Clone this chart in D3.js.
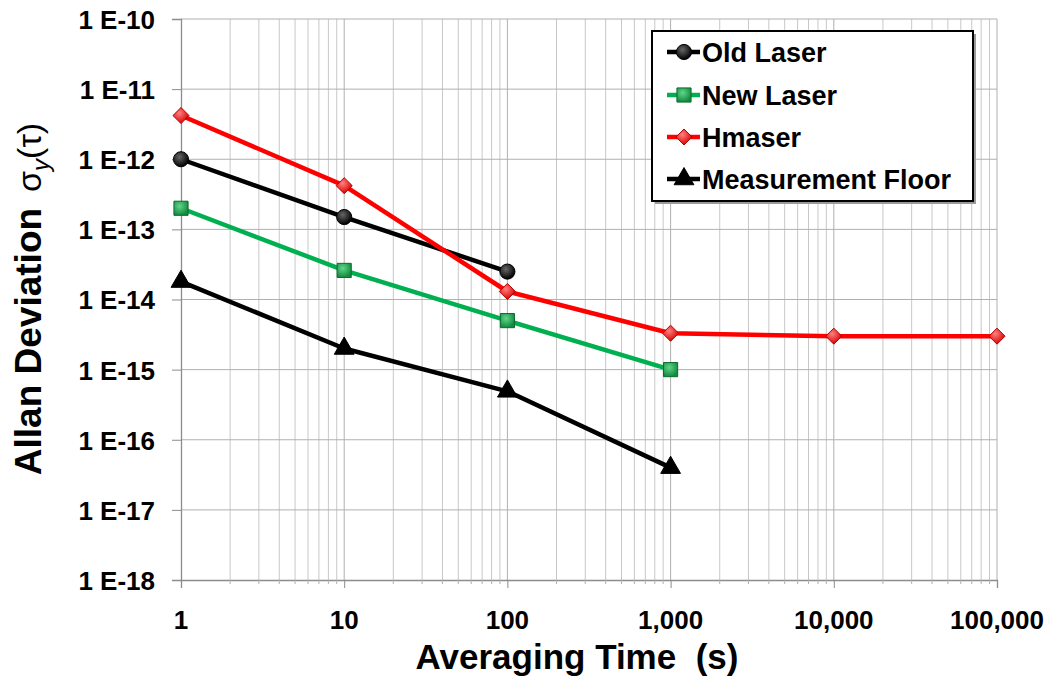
<!DOCTYPE html>
<html><head><meta charset="utf-8">
<script src="https://cdn.jsdelivr.net/npm/d3@7"></script>
<style>body{margin:0;background:#fff}svg{display:block}text{font-family:"Liberation Sans",Arial,sans-serif}</style>
</head><body>
<svg id="c" width="1053" height="686"></svg>
<script>
const xTicks = [1, 10, 100, 1000, 10000, 100000];
const yTicks = [1e-10, 1e-11, 1e-12, 1e-13, 1e-14, 1e-15, 1e-16, 1e-17, 1e-18];
const oldLaserX = [1, 10, 100];
const oldLaserY = [1e-12, 1.5e-13, 2.5e-14];
const newLaserX = [1, 10, 100, 1000];
const newLaserY = [2e-13, 2.6e-14, 5e-15, 1e-15];
const hmaserX = [1, 10, 100, 1000, 10000, 100000];
const hmaserY = [4.2e-12, 4.2e-13, 1.3e-14, 3.3e-15, 3.0e-15, 3.0e-15];
const floorX = [1, 10, 100, 1000];
const floorY = [1.8e-14, 2.0e-15, 4.9e-16, 4e-17];

const diamond = { draw(ctx, size) { const r = Math.sqrt(size) / 2 * 1.25;
  ctx.moveTo(0, -r); ctx.lineTo(r, 0); ctx.lineTo(0, r); ctx.lineTo(-r, 0); ctx.closePath(); } };

const series = [
  {name: "Old Laser", x: oldLaserX, y: oldLaserY, color: "#000000", sym: d3.symbolCircle, size: 180, fill: "url(#gBlack)", stroke: "#000"},
  {name: "New Laser", x: newLaserX, y: newLaserY, color: "#00b050", sym: d3.symbolSquare, size: 200, fill: "url(#gGreen)", stroke: "#0b6b2e"},
  {name: "Hmaser", x: hmaserX, y: hmaserY, color: "#ff0000", sym: diamond, size: 165, fill: "url(#gRed)", stroke: "#b00000"},
  {name: "Measurement Floor", x: floorX, y: floorY, color: "#000000", sym: d3.symbolTriangle, size: 170, fill: "#000", stroke: "#000"}
];

const svg = d3.select("#c");
const defs = svg.append("defs");
[["gBlack", "#666", "#000"], ["gGreen", "#5fd68a", "#138a3e"], ["gRed", "#ff8080", "#d80000"]].forEach(([id, c1, c2]) => {
  const g = defs.append("radialGradient").attr("id", id).attr("cx", "40%").attr("cy", "35%").attr("r", "65%");
  g.append("stop").attr("offset", "0%").attr("stop-color", c1);
  g.append("stop").attr("offset", "100%").attr("stop-color", c2);
});

const L = 181, R = 997, T = 19, B = 580;
const x = d3.scaleLog().domain([1, 1e5]).range([L, R]);
const y = d3.scaleLog().domain([1e-18, 1e-10]).range([B, T]);

// vertical gridlines (major + minor)
const minor = [];
for (let e = 0; e < 5; e++) for (let k = 2; k <= 9; k++) minor.push(k * Math.pow(10, e));
svg.append("g").selectAll("line").data(minor).join("line")
  .attr("x1", d => x(d)).attr("x2", d => x(d)).attr("y1", T).attr("y2", B)
  .attr("stroke", "#c8c8c8").attr("stroke-width", 1);
svg.append("g").selectAll("line").data(xTicks.slice(1)).join("line")
  .attr("x1", d => x(d)).attr("x2", d => x(d)).attr("y1", T).attr("y2", B)
  .attr("stroke", "#b0b0b0").attr("stroke-width", 1);
svg.append("g").selectAll("line").data(yTicks.slice(0, -1)).join("line")
  .attr("x1", L).attr("x2", R).attr("y1", d => y(d)).attr("y2", d => y(d))
  .attr("stroke", "#b0b0b0").attr("stroke-width", 1);

// axes
const yAxis = svg.append("g").attr("transform", `translate(${L},0)`)
  .call(d3.axisLeft(y).tickValues(yTicks).tickSize(9).tickPadding(17)
    .tickFormat(d => "1 E" + Math.round(Math.log10(d))));
yAxis.select(".domain").attr("stroke", "#8c8c8c").attr("stroke-width", 1.3);
yAxis.selectAll(".tick line").attr("stroke", "#8c8c8c");
yAxis.selectAll("text").attr("font-size", 26).attr("font-weight", "bold").attr("fill", "#000").attr("dy", "0.36em");

const xAxis = svg.append("g").attr("transform", `translate(0,${B})`)
  .call(d3.axisBottom(x).tickValues(xTicks).tickSize(8).tickFormat(""));
xAxis.select(".domain").attr("stroke", "#8c8c8c").attr("stroke-width", 1.3);
xAxis.selectAll(".tick line").attr("stroke", "#8c8c8c");
svg.append("g").attr("transform", `translate(0,${B})`).selectAll("line").data(minor).join("line")
  .attr("x1", d => x(d)).attr("x2", d => x(d)).attr("y1", 0).attr("y2", 4).attr("stroke", "#b0b0b0");
svg.append("g").selectAll("text").data(xTicks).join("text")
  .attr("x", d => x(d)).attr("y", 629)
  .attr("text-anchor", "middle").attr("font-size", 26).attr("font-weight", "bold")
  .text(d => d3.format(",")(d));

// axis titles
svg.append("text").attr("x", 577).attr("y", 669)
  .attr("text-anchor", "middle").attr("font-size", 35).attr("font-weight", "bold")
  .text("Averaging Time\u00a0\u00a0(s)");
const yt = svg.append("text").attr("transform", "translate(41,299) rotate(-90)")
  .attr("text-anchor", "middle").attr("font-size", 37);
yt.append("tspan").attr("font-weight", "bold").text("Allan Deviation");
yt.append("tspan").attr("font-size", 34).attr("dx", 16).text("σ");
yt.append("tspan").attr("font-style", "italic").attr("font-size", 24).attr("dy", 8).text("y");
yt.append("tspan").attr("font-size", 34).attr("dy", -8).text("(τ)");

// lines + markers
const line = d3.line().x(d => x(d[0])).y(d => y(d[1]));
series.forEach(s => {
  const pts = s.x.map((v, j) => [v, s.y[j]]);
  svg.append("path").datum(pts).attr("d", line).attr("fill", "none")
    .attr("stroke", s.color).attr("stroke-width", 4.5).attr("stroke-linejoin", "round");
});
series.forEach(s => {
  const pts = s.x.map((v, j) => [v, s.y[j]]);
  svg.append("g").selectAll("path").data(pts).join("path")
    .attr("transform", d => `translate(${x(d[0])},${y(d[1])})`)
    .attr("d", d3.symbol().type(s.sym).size(s.size))
    .attr("fill", s.fill).attr("stroke", s.stroke).attr("stroke-width", 1);
});

// legend
const lg = svg.append("g");
lg.append("rect").attr("x", 655).attr("y", 34).attr("width", 321).attr("height", 170).attr("fill", "#9a9a9a");
lg.append("rect").attr("x", 652).attr("y", 31).attr("width", 321).attr("height", 170)
  .attr("fill", "#fff").attr("stroke", "#000").attr("stroke-width", 2);
const rows = [52, 95, 137, 179];
series.forEach((s, i) => {
  const g = lg.append("g").attr("transform", `translate(0,${rows[i]})`);
  g.append("line").attr("x1", 667).attr("x2", 700).attr("y1", 0).attr("y2", 0)
    .attr("stroke", s.color).attr("stroke-width", 4.5);
  g.append("path").attr("transform", "translate(684,0)")
    .attr("d", d3.symbol().type(s.sym).size(s.size)).attr("fill", s.fill).attr("stroke", s.stroke);
  g.append("text").attr("x", 702).attr("y", 0).attr("dy", "0.36em")
    .attr("font-size", 27).attr("font-weight", "bold").text(s.name);
});
</script>
</body></html>
